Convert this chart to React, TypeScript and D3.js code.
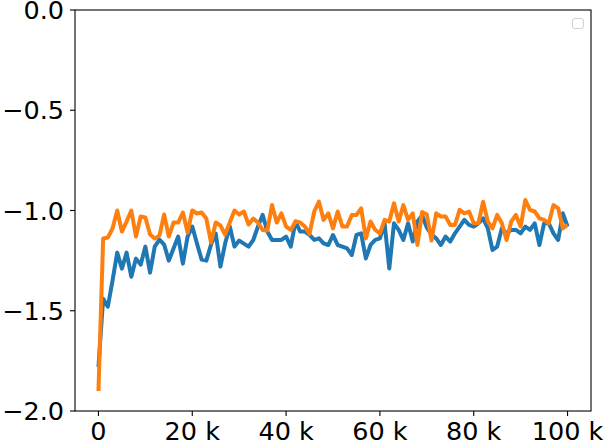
import React from "react";
import * as d3 from "d3";

// values, one point per 1 k steps
const blueValues = [
  -1.78, -1.44, -1.48, -1.35, -1.21, -1.29, -1.21, -1.33, -1.24, -1.27,
  -1.18, -1.31, -1.18, -1.145, -1.17, -1.25, -1.19, -1.13, -1.265, -1.13,
  -1.08, -1.165, -1.245, -1.25, -1.17, -1.115, -1.28, -1.165, -1.08, -1.18,
  -1.15, -1.165, -1.18, -1.147, -1.08, -1.022, -1.105, -1.147, -1.147, -1.147,
  -1.13, -1.18, -1.055, -1.105, -1.105, -1.122, -1.147, -1.139, -1.164, -1.172,
  -1.122, -1.172, -1.18, -1.189, -1.222, -1.122, -1.114, -1.239, -1.172, -1.147,
  -1.139, -1.064, -1.289, -1.064, -1.097, -1.147, -1.064, -1.155, -1.055, -1.025,
  -1.085, -1.12, -1.139, -1.172, -1.13, -1.155, -1.114, -1.08, -1.047, -1.072,
  -1.08, -1.064, -1.039, -1.089, -1.197, -1.18, -1.089, -1.114, -1.097, -1.097,
  -1.114, -1.08, -1.097, -1.064, -1.172, -1.064, -1.064, -1.114, -1.147, -1.014,
  -1.08,
];

const orangeValues = [
  -1.9, -1.14, -1.135, -1.09, -1.0, -1.105, -1.055, -1.0, -1.13, -1.03,
  -1.035, -1.12, -1.14, -1.125, -1.02, -1.13, -1.06, -1.06, -1.01, -1.11,
  -1.0, -1.015, -1.01, -1.04, -1.16, -1.06, -1.075, -1.12, -1.06, -1.0,
  -1.02, -1.005, -1.07, -1.04, -1.06, -1.097, -1.1, -0.973, -1.06, -1.014,
  -1.08, -1.097, -1.055, -1.06, -1.08, -1.117, -1.005, -0.956, -1.047, -1.014,
  -1.089, -1.005, -1.08, -1.08, -1.022, -1.022, -0.989, -1.139, -1.055, -1.097,
  -1.114, -1.047, -1.055, -0.964, -1.055, -0.973, -1.047, -1.014, -1.172, -1.007,
  -1.02, -1.15, -1.014, -1.03, -1.03, -1.072, -1.072, -0.997, -1.014, -1.005,
  -1.064, -1.064, -0.956, -1.055, -1.089, -1.022, -1.064, -1.147, -1.055, -1.022,
  -1.08, -0.948, -0.997, -1.005, -1.039, -1.047, -1.064, -0.973, -0.989, -1.089,
  -1.072,
];

const steps = blueValues.map((_, i) => i * 1000);

const xTicks = [0, 20000, 40000, 60000, 80000, 100000];
const xTickLabels = ["0", "20 k", "40 k", "60 k", "80 k", "100 k"];
const yTicks = [-2.0, -1.5, -1.0, -0.5, 0.0];
const yTickLabels = ["\u22122.0", "\u22121.5", "\u22121.0", "\u22120.5", "0.0"];

const W = 606;
const H = 443;
const margin = { top: 10, right: 15, bottom: 32, left: 75 };

export default function App() {
  const x = d3
    .scaleLinear()
    .domain([-5000, 105000])
    .range([margin.left, W - margin.right]);
  const y = d3
    .scaleLinear()
    .domain([-2, 0])
    .range([H - margin.bottom, margin.top]);

  const line = d3
    .line<number>()
    .x((_, i) => x(steps[i]))
    .y((d) => y(d));

  const font = "'DejaVu Sans', sans-serif";
  const fs = 25.5;

  return (
    <svg
      width={W}
      height={H}
      style={{ position: "absolute", left: 0, top: 0, background: "#fff" }}
    >
      <defs>
        <clipPath id="plot">
          <rect
            x={margin.left}
            y={margin.top}
            width={W - margin.left - margin.right}
            height={H - margin.top - margin.bottom}
          />
        </clipPath>
      </defs>

      <g clipPath="url(#plot)">
        <path
          d={line(blueValues) || ""}
          fill="none"
          stroke="#1f77b4"
          strokeWidth={4}
          strokeLinejoin="round"
          strokeLinecap="butt"
        />
        <path
          d={line(orangeValues) || ""}
          fill="none"
          stroke="#ff7f0e"
          strokeWidth={4}
          strokeLinejoin="round"
          strokeLinecap="butt"
        />
      </g>

      {/* empty legend */}
      <rect
        x={572.5}
        y={18.5}
        width={11}
        height={10}
        rx={2.5}
        fill="#fff"
        stroke="#d0d0d0"
        strokeWidth={1}
      />

      {/* frame */}
      <rect
        x={margin.left}
        y={margin.top}
        width={W - margin.left - margin.right}
        height={H - margin.top - margin.bottom}
        fill="none"
        stroke="#000"
        strokeWidth={1.1}
      />

      {/* y axis */}
      {yTicks.map((t, i) => (
        <g key={"y" + i}>
          <line
            x1={margin.left - 5}
            x2={margin.left}
            y1={y(t)}
            y2={y(t)}
            stroke="#000"
            strokeWidth={1.1}
          />
          <text
            x={margin.left - 11}
            y={y(t)}
            textAnchor="end"
            dominantBaseline="central"
            fontFamily={font}
            fontSize={fs}
            fill="#000"
          >
            {yTickLabels[i]}
          </text>
        </g>
      ))}

      {/* x axis */}
      {xTicks.map((t, i) => (
        <g key={"x" + i}>
          <line
            x1={x(t)}
            x2={x(t)}
            y1={H - margin.bottom}
            y2={H - margin.bottom + 5}
            stroke="#000"
            strokeWidth={1.1}
          />
          <text
            x={x(t)}
            y={H - margin.bottom + 10}
            textAnchor="middle"
            dominantBaseline="hanging"
            fontFamily={font}
            fontSize={fs}
            fill="#000"
          >
            {xTickLabels[i]}
          </text>
        </g>
      ))}
    </svg>
  );
}
